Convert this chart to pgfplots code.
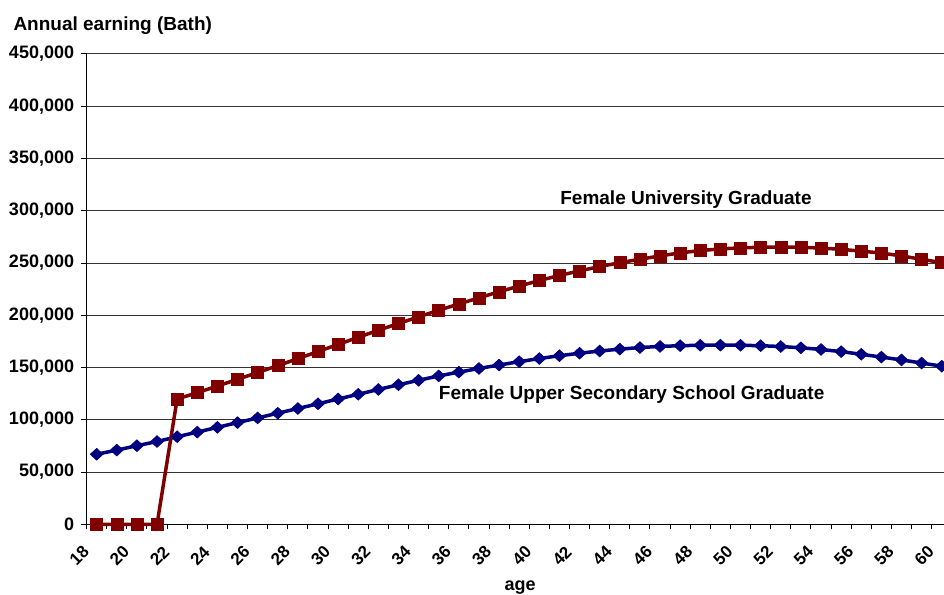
\documentclass[border=0pt]{standalone}
\usepackage{pgfplots}
\pgfplotsset{compat=1.18}
\usepackage{pgfplotstable}
\usepackage{fontspec}
\setmainfont{Liberation Sans}
\definecolor{ured}{RGB}{128,0,0}
\definecolor{sblue}{RGB}{0,0,128}

\pgfplotstableread{
age upper uni
18 67000 0
19 71000 0
20 75200 0
21 79200 0
22 83800 119900
23 88200 125900
24 92800 132300
25 97300 138700
26 101800 145200
27 106300 151800
28 110800 158500
29 115300 165300
30 119900 172100
31 124400 178900
32 129000 185700
33 133500 192100
34 137800 198500
35 142000 204800
36 145600 210800
37 149100 216700
38 152400 222500
39 155600 228000
40 158600 233200
41 161300 238100
42 163700 242500
43 165800 246600
44 167600 250300
45 169100 253600
46 170200 256800
47 170900 259700
48 171300 261900
49 171400 263500
50 171300 264500
51 170900 265100
52 170100 265300
53 168900 265100
54 167300 264300
55 165200 263100
56 162700 261400
57 160000 259500
58 157300 256800
59 154300 253600
60 151300 250300
}\datatable

\begin{document}
\begin{tikzpicture}
\begin{axis}[
  at={(86.6pt,69.7pt)}, anchor=south west,
  scale only axis, width=865.2pt, height=470.3pt,
  xmin=17.5, xmax=60.5, ymin=0, ymax=450000,
  clip=false,
  axis x line*=bottom, axis y line*=left,
  axis line style={line width=1.2pt, black, -},
  tick align=outside,
  xtick={18,20,...,60},
  major x tick style={draw=none},
  minor xtick={17.5,18.5,...,60.5},
  minor x tick style={black, line width=1pt},
  minor tick length=5pt,
  major tick length=6pt,
  ytick={0,50000,...,450000},
  major y tick style={black, line width=1pt},
  ymajorgrids,
  grid style={black!80, line width=1pt},
  scaled y ticks=false,
  yticklabel style={font=\bfseries\fontsize{18}{20}\selectfont, /pgf/number format/fixed, /pgf/number format/1000 sep={,}, /pgf/number format/assume math mode=true, xshift=-3pt},
  xticklabel style={xshift=-10.7pt, yshift=-18.7pt, rotate=45, anchor=east, inner sep=0pt, font=\bfseries\fontsize{17}{18}\selectfont, /pgf/number format/assume math mode=true},
]
\addplot[sblue, line width=3.5pt, mark=diamond*, mark size=5.8pt, mark options={xscale=1.45, line width=0.8pt}] table[x=age,y=upper]{\datatable};
\addplot[ured, line width=3.5pt, mark=square*, mark size=6pt, mark options={line width=0.5pt}] table[x=age,y=uni]{\datatable};
\node[anchor=base, inner sep=0pt, font=\bfseries\fontsize{19}{20}\selectfont] at (axis cs:47.29,306470) {Female University Graduate};
\node[anchor=base, inner sep=0pt, font=\bfseries\fontsize{19}{20}\selectfont] at (axis cs:44.59,119890) {Female Upper Secondary School Graduate};
\node[anchor=base, inner sep=0pt, font=\bfseries\fontsize{18}{20}\selectfont] at (axis cs:39.04,-63800) {age};
\end{axis}
\node[anchor=base west, inner sep=0pt, font=\bfseries\fontsize{19}{20}\selectfont] at (13.3pt,563.3pt) {Annual earning (Bath)};
\pgfresetboundingbox
\useasboundingbox (0,0) rectangle (944pt,594pt);
\end{tikzpicture}
\end{document}
